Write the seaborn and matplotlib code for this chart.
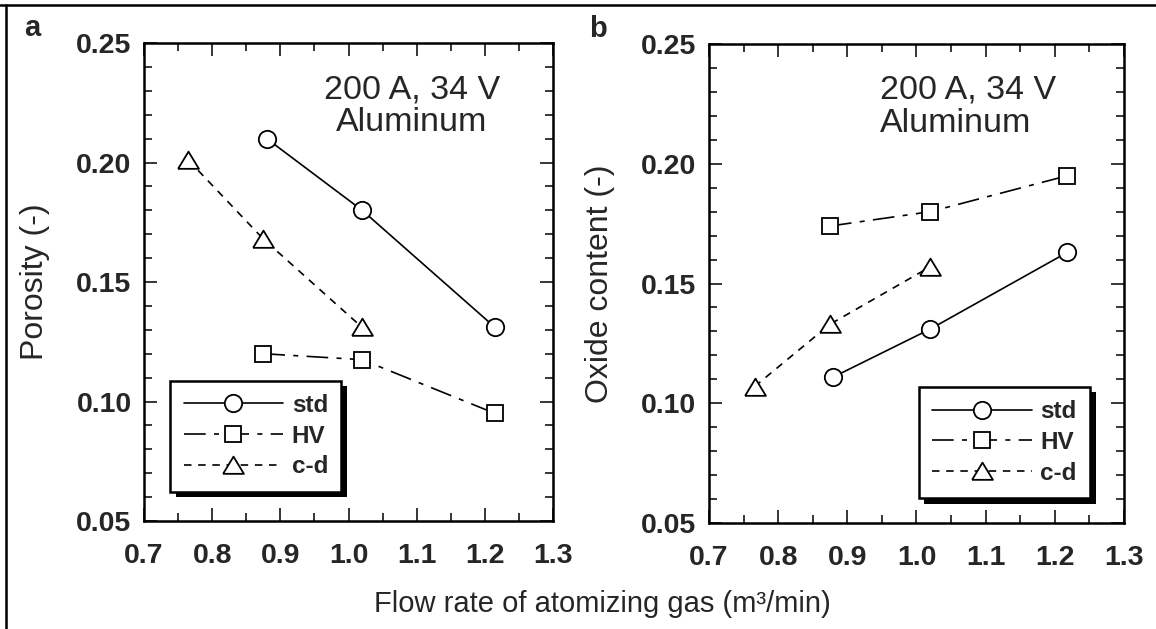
import pandas as pd
import seaborn as sns
import matplotlib.pyplot as plt
from matplotlib.lines import Line2D
from matplotlib.ticker import MultipleLocator
import matplotlib.patheffects as pe

# 数据
series_order = ['std', 'HV', 'c-d']

# 图 a: 孔隙率
por_std_x = [0.88, 1.02, 1.215]
por_std_y = [0.210, 0.180, 0.131]
por_hv_x = [0.875, 1.02, 1.215]
por_hv_y = [0.120, 0.1175, 0.095]
por_cd_x = [0.765, 0.875, 1.02]
por_cd_y = [0.201, 0.168, 0.131]

# 图 b: 氧化物含量
ox_std_x = [0.88, 1.02, 1.218]
ox_std_y = [0.111, 0.131, 0.163]
ox_hv_x = [0.875, 1.02, 1.218]
ox_hv_y = [0.174, 0.180, 0.195]
ox_cd_x = [0.766, 0.875, 1.02]
ox_cd_y = [0.107, 0.133, 0.157]

x_label = 'Flow rate of atomizing gas (m³/min)'
y_labels = ['Porosity (-)', 'Oxide content (-)']
note = '200 A, 34 V\nAluminum'


def make_df(sx, sy, hx, hy, cx, cy):
    rows = []
    for name, xs, ys in [('std', sx, sy), ('HV', hx, hy), ('c-d', cx, cy)]:
        for x, y in zip(xs, ys):
            rows.append({'flow': x, 'value': y, 'series': name})
    return pd.DataFrame(rows)


df_a = make_df(por_std_x, por_std_y, por_hv_x, por_hv_y, por_cd_x, por_cd_y)
df_b = make_df(ox_std_x, ox_std_y, ox_hv_x, ox_hv_y, ox_cd_x, ox_cd_y)

# 设置绘图风格
sns.set_style('ticks')
plt.rcParams['font.family'] = ['Liberation Sans', 'DejaVu Sans']

fig = plt.figure(figsize=(11.56, 6.29), dpi=100)
ax_a = fig.add_axes([0.1246, 0.1717, 0.3538, 0.7599])
ax_b = fig.add_axes([0.6133, 0.1685, 0.3590, 0.7615])

# 扁一点的三角形（闭合路径）
tri = [(-1.0, -0.8), (1.0, -0.8), (0.0, 0.85), (-1.0, -0.8)]
markers = {'std': 'o', 'HV': 's', 'c-d': tri}
dashes = {'std': '', 'HV': (13, 5, 3, 5), 'c-d': (4.5, 4)}
msizes = {'std': 12.5, 'HV': 12, 'c-d': 15}

for ax, df in [(ax_a, df_a), (ax_b, df_b)]:
    sns.lineplot(data=df, x='flow', y='value', style='series', style_order=series_order,
                 markers=markers, dashes=dashes, color='black', linewidth=1.2,
                 markersize=12.5, markerfacecolor='white', markeredgecolor='black',
                 markeredgewidth=1.3, legend=False, ax=ax, errorbar=None)
    for line, name in zip(ax.lines, series_order):
        line.set_markersize(msizes[name])

    ax.set_xlim(0.7, 1.3)
    ax.set_ylim(0.05, 0.25)
    ax.xaxis.set_major_locator(MultipleLocator(0.1))
    ax.xaxis.set_minor_locator(MultipleLocator(0.05))
    ax.yaxis.set_major_locator(MultipleLocator(0.05))
    ax.yaxis.set_minor_locator(MultipleLocator(0.01))
    ax.xaxis.set_major_formatter(plt.FuncFormatter(lambda v, p: f'{v:.1f}'))
    ax.yaxis.set_major_formatter(plt.FuncFormatter(lambda v, p: f'{v:.2f}'))
    ax.tick_params(which='both', direction='in', top=True, right=True, width=1.1, color='black')
    ax.tick_params(which='major', length=9.5)
    ax.tick_params(which='minor', length=6)
    ax.tick_params(axis='x', which='major', pad=16, labelsize=20.5)
    ax.tick_params(axis='y', which='major', pad=9, labelsize=20.5)
    for lab in ax.get_xticklabels() + ax.get_yticklabels():
        lab.set_fontweight('bold')
    for sp in ax.spines.values():
        sp.set_linewidth(1.8)
        sp.set_color('black')
    ax.set_xlabel('')

    leg = ax.legend(handles=ax.lines[:3], labels=series_order, frameon=True, fancybox=False,
                    handlelength=4.1, handletextpad=0.35, numpoints=1, borderpad=0.55,
                    labelspacing=0.32, borderaxespad=0,
                    prop={'weight': 'bold', 'size': 17.5})
    frame = leg.get_frame()
    frame.set_edgecolor('black')
    frame.set_linewidth(1.8)
    frame.set_alpha(1)
    frame.set_path_effects([pe.SimplePatchShadow(offset=(4, -4), shadow_rgbFace='black', alpha=1),
                            pe.Normal()])
    ax.legend_ = leg

ax_a.legend_.set_bbox_to_anchor((0.064, 0.061), transform=ax_a.transAxes)
ax_a.legend_._loc = 3
ax_b.legend_.set_bbox_to_anchor((0.918, 0.052), transform=ax_b.transAxes)
ax_b.legend_._loc = 4

# y 轴标签
ax_a.set_ylabel(y_labels[0], fontsize=23)
ax_b.set_ylabel(y_labels[1], fontsize=23)
ax_a.yaxis.label.set_va('center')
ax_b.yaxis.label.set_va('center')
ax_a.yaxis.set_label_coords(-0.2665, 0.5)
ax_b.yaxis.set_label_coords(-0.2627, 0.5)

# 注释文字
ax_a.text(0.655, 0.935, note, transform=ax_a.transAxes, ha='center', va='top',
          multialignment='center', fontsize=24.5, linespacing=1.1)
ax_b.text(0.412, 0.937, note, transform=ax_b.transAxes, ha='left', va='top',
          multialignment='left', fontsize=24.5, linespacing=1.1)

# 面板字母和 x 轴标签
fig.text(24 / 1156, 1 - 36 / 629, 'a', fontsize=21, fontweight='bold', va='baseline')
fig.text(589 / 1156, 1 - 37 / 629, 'b', fontsize=21, fontweight='bold', va='baseline')
fig.text(602 / 1156, 1 - 604 / 629, x_label, fontsize=21, ha='center', va='center')

# 外框线
fig.add_artist(Line2D([0, 1], [1 - 5 / 629, 1 - 5 / 629], color='black', linewidth=1.8,
                      transform=fig.transFigure))
fig.add_artist(Line2D([6 / 1156, 6 / 1156], [0, 1 - 5 / 629], color='black', linewidth=1.8,
                      transform=fig.transFigure))

fig.savefig('out.png', dpi=100)
